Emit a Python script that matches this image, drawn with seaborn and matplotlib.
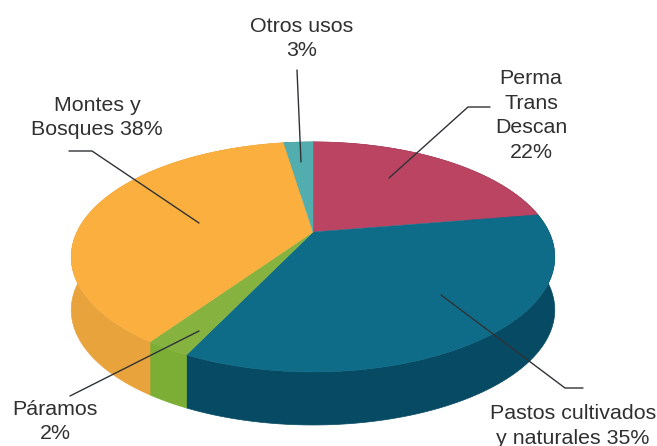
import numpy as np
import matplotlib
matplotlib.use("Agg")
import matplotlib.pyplot as plt
from matplotlib.patches import Polygon
import seaborn as sns

categories = ["Perma\nTrans\nDescan", "Pastos cultivados\ny naturales", "Páramos", "Montes y\nBosques", "Otros usos"]
values = [22.4, 34.7, 2.5, 38, 2.4]
top_colors = ["#BA4462", "#0F6C88", "#86B340", "#FAAF3E", "#52AEAE"]
side_colors = ["#8A2F48", "#064A63", "#7CAE36", "#E9A33C", "#3C8A8A"]
labels = ["Perma\nTrans\nDescan\n22%", "Pastos cultivados\ny naturales 35%", "Páramos\n2%",
          "Montes y\nBosques 38%", "Otros usos\n3%"]
label_pos = [(531, 115.5), (573, 426), (55, 421.5), (97, 117.5), (302, 38.5)]
leaders = [[(490, 107), (468, 107), (389, 178)],
           [(583, 388), (565, 388), (441, 295)],
           [(70, 396), (199, 331)],
           [(69, 151), (92, 151), (199, 223)],
           [(297, 70), (301, 162)]]

sns.set_theme(style="white")
plt.rcParams["font.family"] = ["Liberation Sans", "DejaVu Sans"]

fig, ax = plt.subplots(figsize=(6.57, 4.46), dpi=100)
fig.subplots_adjust(0, 0, 1, 1)
wedges, _ = ax.pie(values, startangle=90, counterclock=False, colors=sns.color_palette(top_colors))

CX, CY, R, A, C, DEPTH = 313.0, 232.0, 236.0, 109.6, 0.217, 53.0


def project(theta_deg):
    t = np.radians(theta_deg)
    u, v = np.cos(t), np.sin(t)
    w = 1 + C * v
    return np.column_stack([CX + R * u / w, CY - A * v / w])


shapes = []
for w in wedges:
    th = np.linspace(w.theta1, w.theta2, 120)
    shapes.append((project(th), w.get_facecolor()))
    w.remove()

for (arc, _), sc in zip(shapes, side_colors):
    low = arc + [0, DEPTH]
    ax.add_patch(Polygon(np.vstack([arc, low[::-1]]), closed=True, fc=sc, ec=sc, lw=0.5))
for arc, fc in shapes:
    ax.add_patch(Polygon(np.vstack([[CX, CY], arc]), closed=True, fc=fc, ec=fc, lw=0.3))

for pts in leaders:
    p = np.array(pts)
    ax.plot(p[:, 0], p[:, 1], color="#2f3336", lw=1.0, solid_joinstyle="round")
for (x, y), s in zip(label_pos, labels):
    ax.text(x, y, s, ha="center", va="center", fontsize=15.4, color="#303030", linespacing=1.39)

ax.set_xlim(0, 657)
ax.set_ylim(446, 0)
ax.set_aspect("auto")
ax.axis("off")
fig.savefig("out.png", dpi=100, facecolor="white")
